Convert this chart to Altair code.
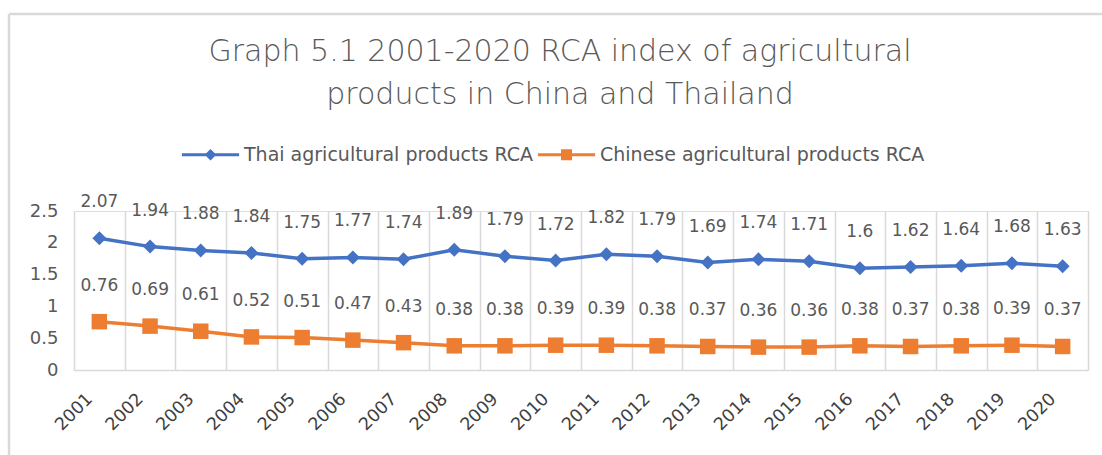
import altair as alt
import pandas as pd

years = ["2001", "2002", "2003", "2004", "2005", "2006", "2007", "2008", "2009", "2010",
         "2011", "2012", "2013", "2014", "2015", "2016", "2017", "2018", "2019", "2020"]
thai = [2.07, 1.94, 1.88, 1.84, 1.75, 1.77, 1.74, 1.89, 1.79, 1.72,
        1.82, 1.79, 1.69, 1.74, 1.71, 1.6, 1.62, 1.64, 1.68, 1.63]
china = [0.76, 0.69, 0.61, 0.52, 0.51, 0.47, 0.43, 0.38, 0.38, 0.39,
         0.39, 0.38, 0.37, 0.36, 0.36, 0.38, 0.37, 0.38, 0.39, 0.37]
series_names = ["Thai agricultural products RCA", "Chinese agricultural products RCA"]
series_colors = ["#4472C4", "#ED7D31"]
y_ticks = [0, 0.5, 1, 1.5, 2, 2.5]
title_lines = ["Graph 5.1 2001-2020 RCA index of agricultural",
               "products in China and Thailand"]

rows = []
for yr, t, c in zip(years, thai, china):
    rows.append({"year": yr, "series": series_names[0], "lg": series_names[0], "value": t})
    rows.append({"year": yr, "series": series_names[1], "lg": series_names[1], "value": c})
df = pd.DataFrame(rows)

FONT = "DejaVu Sans"
GRID = "#d9d9d9"

x_enc = alt.X(
    "year:O", sort=years,
    scale=alt.Scale(type="band", paddingInner=0, paddingOuter=0),
    axis=alt.Axis(title=None, labelAngle=315, labelAlign="right", labelBaseline="middle",
                  labelPadding=26, labelOffset=-10, labelFont=FONT, labelFontSize=17.5,
                  labelColor="#404040", ticks=False, grid=True, gridColor=GRID,
                  gridWidth=1.5, tickBand="extent", domainColor=GRID, domainWidth=1.5),
)
y_enc = alt.Y(
    "value:Q",
    scale=alt.Scale(domain=[0, 2.5], nice=False),
    axis=alt.Axis(title=None, values=y_ticks, format="~g", domain=False, ticks=False,
                  grid=False, labelFont=FONT, labelFontSize=18, labelColor="#595959",
                  labelPadding=16),
)
color_scale = alt.Scale(domain=series_names, range=series_colors)

base = alt.Chart(df).encode(x=x_enc, y=y_enc)

line = base.mark_line(strokeWidth=3.5).encode(
    color=alt.Color("series:N", scale=color_scale, legend=None),
    detail="series:N",
)
pts = base.mark_point(filled=True, opacity=1).encode(
    color=alt.Color("series:N", scale=color_scale, legend=None),
    shape=alt.Shape("series:N", scale=alt.Scale(domain=series_names, range=["diamond", "square"]), legend=None),
    size=alt.Size("series:N", scale=alt.Scale(domain=series_names, range=[196, 240]), legend=None),
)
labels = base.mark_text(dy=-36, baseline="middle", font=FONT, fontSize=17, color="#595959").encode(
    text=alt.Text("value:Q", format="~g"),
    detail="series:N",
)

path_thai = "M-5.2,-0.28H5.2V0.28H-5.2Z M0,-1.05L1.05,0L0,1.05L-1.05,0Z"
path_china = "M-5.2,-0.28H5.2V0.28H-5.2Z M-1,-1H1V1H-1Z"
leg_props = dict(title=None, orient="none", legendX=127, legendY=-66, direction="horizontal",
                 symbolSize=121, symbolOpacity=1, symbolStrokeWidth=0, labelFont=FONT,
                 labelFontSize=19, labelColor="#595959", labelOffset=24, labelLimit=600,
                 columnPadding=4, padding=0)
leg = base.mark_point(filled=True, opacity=0).encode(
    color=alt.Color("lg:N", scale=color_scale, legend=alt.Legend(**leg_props)),
    shape=alt.Shape("lg:N", scale=alt.Scale(domain=series_names, range=[path_thai, path_china]),
                    legend=alt.Legend(**leg_props)),
)

frame_data = alt.Data(values=[{}])
frame_left = alt.Chart(frame_data).mark_rule(color=GRID, strokeWidth=2.5).encode(
    x=alt.value(-65), y=alt.value(-197), y2=alt.value(250))
frame_top = alt.Chart(frame_data).mark_rule(color=GRID, strokeWidth=2.5).encode(
    x=alt.value(-65), x2=alt.value(1035), y=alt.value(-197))

chart = alt.layer(frame_left, frame_top, line, pts, labels, leg).resolve_scale(
    color="independent", shape="independent", size="independent"
).properties(
    width=1014, height=159,
    autosize=alt.AutoSizeParams(type="none"),
    padding={"left": 74, "top": 211, "right": 14, "bottom": 85},
    title=alt.TitleParams(text=title_lines, font=FONT, fontSize=30, fontWeight=200,
                          color="#595959", lineHeight=43, anchor="middle", frame="group",
                          offset=0, dx=-21, dy=97),
).configure_view(stroke=None).configure(background="white")

chart.save("out.html", embed_options={"renderer": "svg", "actions": False})
